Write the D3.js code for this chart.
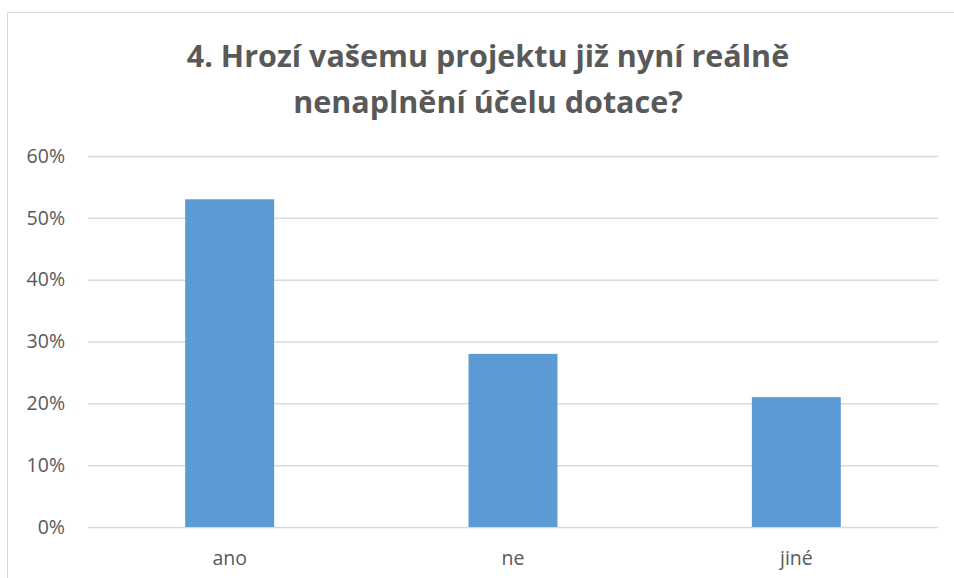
<!DOCTYPE html>
<meta charset="utf-8">
<html>
<style>
 body { margin:0; background:#fff; }
 svg { display:block; font-family: "Open Sans", sans-serif; }
</style>
<script src="https://d3js.org/d3.v7.min.js"></script>
<svg width="954" height="578"></svg>
<script>
const categories = ["ano", "ne", "jiné"]
const values = [0.53, 0.28, 0.21]
const yTicks = [0, 0.1, 0.2, 0.3, 0.4, 0.5, 0.6]
const titleLines = ["4. Hrozí vašemu projektu již nyní reálně", "nenaplnění účelu dotace?"]

const svg = d3.select('svg')
const plotLeft = 88, plotRight = 938, plotTop = 156, plotBottom = 527

// chart frame
svg.append('rect')
	.attr('x', 7.5).attr('y', 12.5)
	.attr('width', 960).attr('height', 600)
	.attr('fill', 'none').attr('stroke', '#d9d9d9')

const x = d3.scaleBand()
	.domain(categories)
	.range([plotLeft, plotRight])
	.paddingInner(0.686)
	.paddingOuter(0.343)

const y = d3.scaleLinear()
	.domain([0, 0.6])
	.range([plotBottom, plotTop])

const yAxis = d3.axisLeft(y)
	.tickValues(yTicks)
	.tickSize(-(plotRight - plotLeft))
	.tickFormat(d3.format('.0%'))

const gy = svg.append('g')
	.attr('transform', `translate(${plotLeft},0)`)
	.call(yAxis)
gy.select('.domain').remove()
gy.selectAll('.tick line').attr('stroke', '#d9d9d9').attr('stroke-width', 1.5)
gy.selectAll('.tick text')
	.attr('x', -23)
	.attr('fill', '#595959')
	.attr('font-size', 19.5)
	.attr('font-family', '"Open Sans", sans-serif')

svg.selectAll('.bar')
	.data(values)
	.enter().append('rect')
	.attr('class', 'bar')
	.attr('x', (d, i) => x(categories[i]))
	.attr('width', x.bandwidth())
	.attr('y', d => y(d))
	.attr('height', d => y(0) - y(d))
	.attr('fill', '#5b9bd5')

const xAxis = d3.axisBottom(x).tickSize(0)
const gx = svg.append('g')
	.attr('transform', `translate(0,${plotBottom})`)
	.call(xAxis)
gx.select('.domain').remove()
gx.selectAll('.tick text')
	.attr('dy', null)
	.attr('y', 38)
	.attr('fill', '#595959')
	.attr('font-size', 19.5)
	.attr('font-family', '"Open Sans", sans-serif')

svg.selectAll('.title')
	.data(titleLines)
	.enter().append('text')
	.attr('class', 'title')
	.attr('x', 488)
	.attr('y', (d, i) => 67 + i * 46)
	.attr('text-anchor', 'middle')
	.attr('font-size', 30.5)
	.attr('font-weight', 'bold')
	.attr('fill', '#595959')
	.text(d => d)
</script>
</html>
